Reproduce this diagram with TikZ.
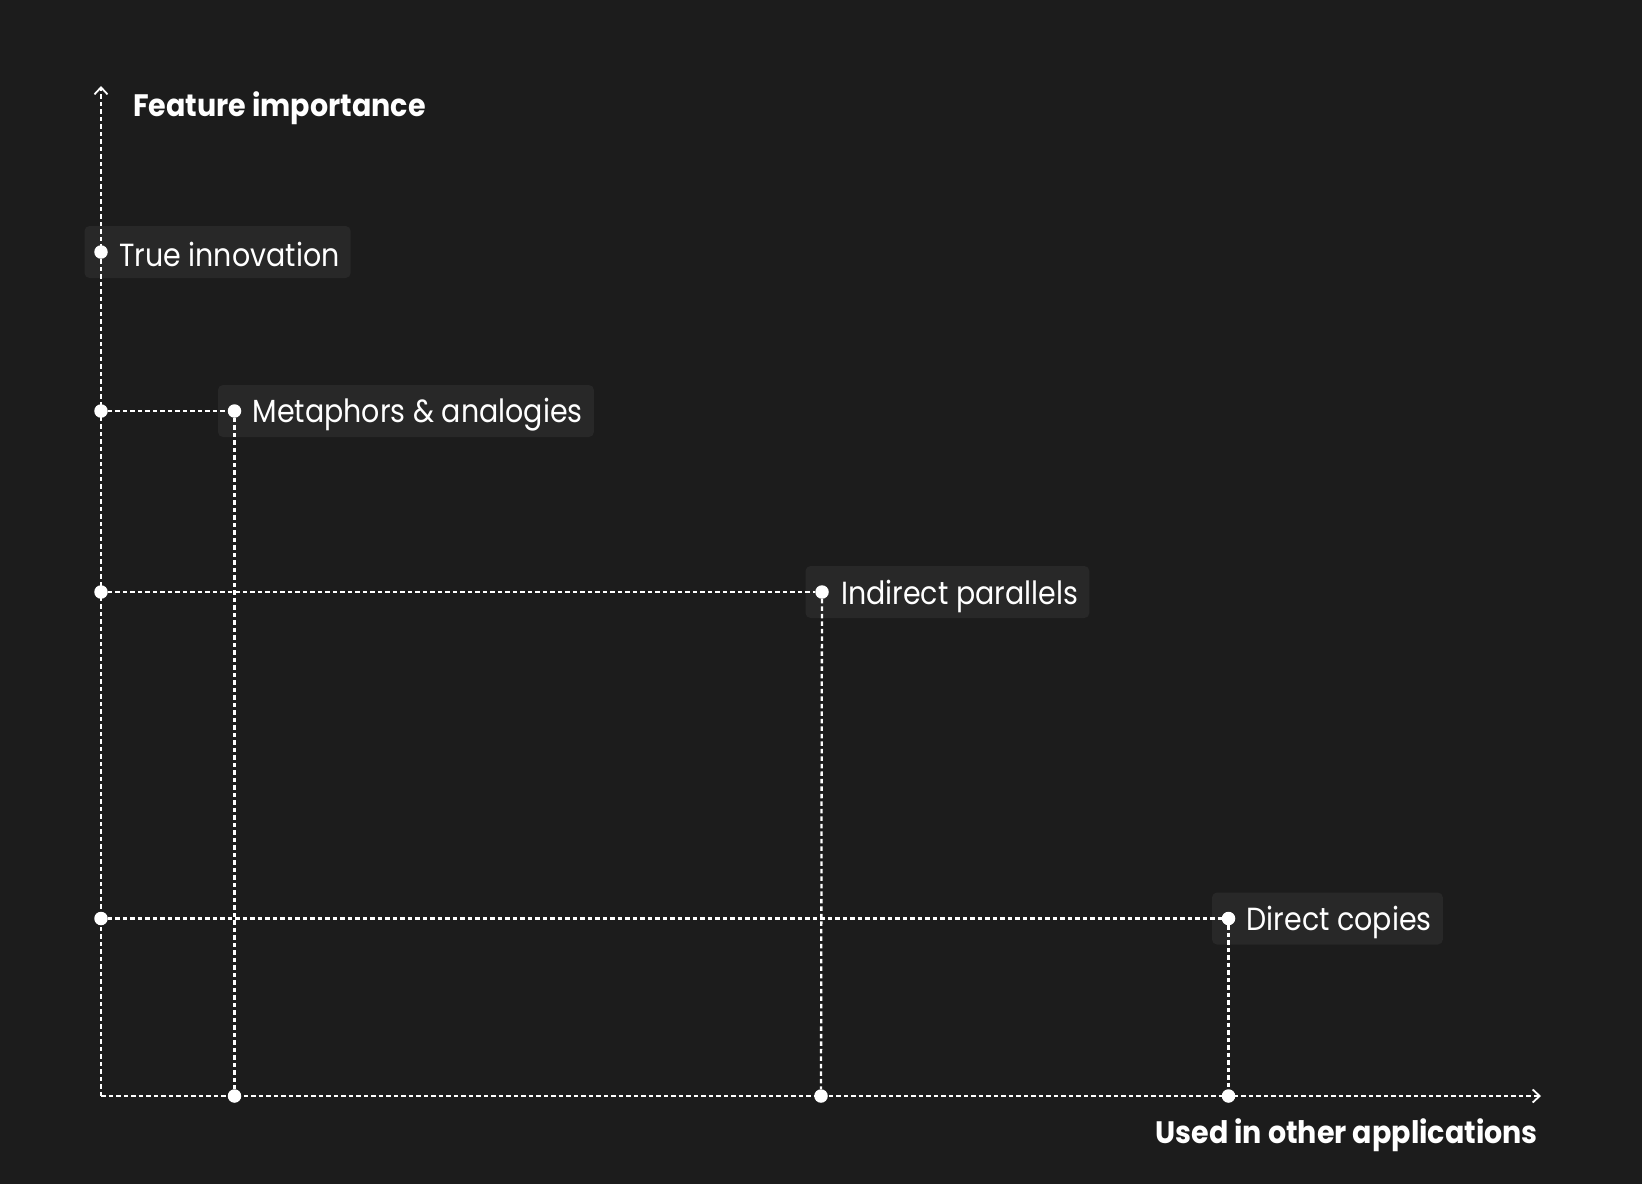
\documentclass[tikz,border=0pt]{standalone}
\usepackage{fontspec}
\setmainfont{Poppins}
\newfontfamily\lblfont{Poppins}[FakeStretch=0.89]
\newfontfamily\axfont{Poppins}[FakeStretch=0.92]
\usetikzlibrary{arrows.meta,calc}
\pgfdeclarelayer{back}
\pgfdeclarelayer{bg}
\pgfsetlayers{back,bg,main}
\definecolor{pagebg}{HTML}{1C1C1C}
\definecolor{boxbg}{HTML}{282828}
\begin{document}
\begin{tikzpicture}[x=1pt,y=-1pt,
  dline/.style={draw=white,line width=2.3pt,dash pattern=on 4.5pt off 3pt},
  axis/.style={dline,-{Straight Barb[length=7pt,width=13pt,line width=1.8pt]}},
  dot/.style={circle,fill=white,inner sep=0pt,minimum size=13.5pt},
  lbl/.style={text=white,inner sep=0pt,anchor=west,font=\lblfont\fontsize{32}{36}\selectfont},
  axlbl/.style={text=white,inner sep=0pt,font=\axfont\fontsize{31}{36}\selectfont\bfseries},
  box/.style={fill=boxbg,rounded corners=5pt}]
\begin{pgfonlayer}{back}
\fill[pagebg] (0,0) rectangle (1642,1184);
\end{pgfonlayer}
\useasboundingbox (0,0) rectangle (1642,1184);
% axes
\coordinate (O) at (101,1096);
\coordinate (ytop) at (101,86);
\coordinate (xend) at (1541,1096);
\draw[axis] (O) -- (ytop);
\draw[axis] (O) -- (xend);
\node[axlbl,anchor=base west] (ylab) at (133,116) {Feature importance};
\node[axlbl,anchor=base east] (xlab) at (1538,1143) {Used in other applications};
% points
\node[dot] (ti) at (101,252) {};
\node[dot] (mal) at (101,411) {};
\node[dot] (ma) at (234.5,411) {};
\node[dot] (ipl) at (101,592) {};
\node[dot] (ip) at (822,592) {};
\node[dot] (dcl) at (101,918.5) {};
\node[dot] (dc) at (1228.5,918.5) {};
\node[dot] (mab) at (234.5,1096) {};
\node[dot] (ipb) at (821,1096) {};
\node[dot] (dcb) at (1228.5,1096) {};
% connectors
\draw[dline] (mal) -- (ma);
\draw[dline] (ma) -- (mab);
\draw[dline] (ipl) -- (ip);
\draw[dline] (ip) -- (ipb);
\draw[dline] (dcl) -- (dc);
\draw[dline] (dc) -- (dcb);
% labels
\node[lbl] (tit) at ($(ti)+(18,2.5)$) {True innovation};
\node[lbl] (mat) at ($(ma)+(18,4)$) {Metaphors \& analogies};
\node[lbl] (ipt) at ($(ip)+(19,4)$) {Indirect parallels};
\node[lbl] (dct) at ($(dc)+(18,4)$) {Direct copies};
\begin{pgfonlayer}{bg}
\foreach \d/\t in {ti/tit,ma/mat,ip/ipt,dc/dct}{
  \fill[box] ($(\d)+(-16.5,-26)$) rectangle ($(\t.east|-\d)+(11,26)$);
}
\end{pgfonlayer}
\end{tikzpicture}
\end{document}
